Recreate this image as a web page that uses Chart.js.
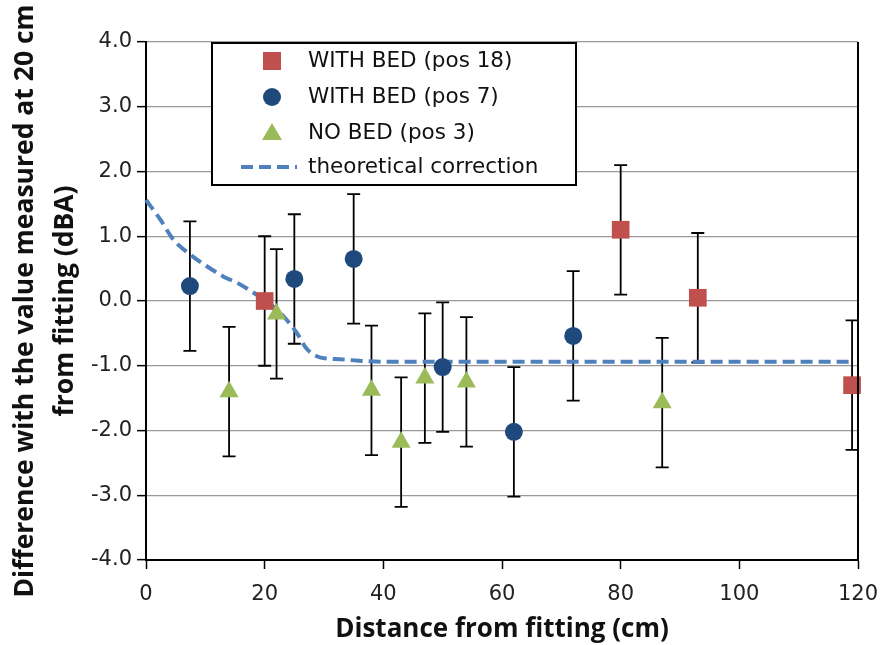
<!DOCTYPE html>
<html>
<head>
<meta charset="utf-8">
<script src="https://cdn.jsdelivr.net/npm/chart.js@4/dist/chart.umd.min.js"></script>
<style>
  html, body { margin: 0; padding: 0; background: #ffffff; }
  #wrap { width: 883px; height: 645px; }
</style>
</head>
<body>
<div id="wrap"><canvas id="c" width="883" height="645"></canvas></div>
<script>
// ---- data ----
const bed18X = [20, 80, 93, 119];
const bed18Y = [0.0, 1.1, 0.05, -1.3];
const bed18Err = [1.0, 1.0, 1.0, 1.0];

const bed7X = [7.4, 25, 35, 50, 62, 72];
const bed7Y = [0.23, 0.34, 0.65, -1.02, -2.02, -0.54];
const bed7Err = [1.0, 1.0, 1.0, 1.0, 1.0, 1.0];

const noBedX = [14, 22, 38, 43, 47, 54, 87];
const noBedY = [-1.4, -0.2, -1.38, -2.18, -1.19, -1.25, -1.57];
const noBedErr = [1.0, 1.0, 1.0, 1.0, 1.0, 1.0, 1.0];

const theoX = [0, 2.4, 4.6, 7.4, 10.2, 13, 15.8, 18.6, 20.3, 23.1, 25.4, 27.1, 29.3, 32.7, 35.5, 40, 119];
const theoY = [1.56, 1.26, 0.95, 0.72, 0.54, 0.38, 0.26, 0.10, 0.0, -0.23, -0.49, -0.74, -0.87, -0.90, -0.92, -0.94, -0.94];

const seriesNames = ['WITH BED (pos 18)', 'WITH BED (pos 7)', 'NO BED (pos 3)', 'theoretical correction'];
const xTitle = 'Distance from fitting (cm)';
const yTitle = ['Difference with the value measured at 20 cm', 'from fitting (dBA)'];

const RED = '#C0504D', BLUE = '#1F497D', GREEN = '#9BBB59', LINE = '#4F81BD';
const TICKFONT = '"DejaVu Sans", sans-serif';
const TITLEFONT = '"Open Sans", "Noto Sans", sans-serif';

function pts(xs, ys) { return xs.map((x, i) => ({ x: x, y: ys[i] })); }

const errorBarPlugin = {
  id: 'errorBars',
  beforeDatasetsDraw(chart) {
    const ctx = chart.ctx;
    const xs = chart.scales.x, ys = chart.scales.y;
    ctx.save();
    ctx.strokeStyle = '#000';
    ctx.lineWidth = 1.8;
    chart.data.datasets.forEach(ds => {
      if (!ds.errors) return;
      ds.data.forEach((p, i) => {
        const e = ds.errors[i];
        const px = xs.getPixelForValue(p.x);
        const yt = ys.getPixelForValue(p.y + e);
        const yb = ys.getPixelForValue(p.y - e);
        ctx.beginPath();
        ctx.moveTo(px, yt); ctx.lineTo(px, yb);
        ctx.moveTo(px - 6.5, yt); ctx.lineTo(px + 6.5, yt);
        ctx.moveTo(px - 6.5, yb); ctx.lineTo(px + 6.5, yb);
        ctx.stroke();
      });
    });
    ctx.restore();
  },
  afterDatasetsDraw(chart) {
    const ctx = chart.ctx, a = chart.chartArea;
    ctx.save();
    ctx.strokeStyle = '#000';
    ctx.lineWidth = 2;
    ctx.beginPath();
    ctx.moveTo(a.right, a.top); ctx.lineTo(a.right, a.bottom);
    ctx.stroke();
    ctx.restore();
  }
};

const legendPlugin = {
  id: 'boxLegend',
  afterDraw(chart) {
    const ctx = chart.ctx;
    const L = 212, T = 43, R = 576, B = 185;
    ctx.save();
    ctx.fillStyle = '#fff';
    ctx.fillRect(L, T, R - L, B - T);
    ctx.strokeStyle = '#000';
    ctx.lineWidth = 2;
    ctx.strokeRect(L, T, R - L, B - T);
    const rows = [61, 97, 133, 167];
    const sx = 272, tx = 308;
    ctx.fillStyle = RED;
    ctx.fillRect(sx - 9, rows[0] - 9, 18, 18);
    ctx.fillStyle = BLUE;
    ctx.beginPath(); ctx.arc(sx, rows[1], 9, 0, Math.PI * 2); ctx.fill();
    ctx.fillStyle = GREEN;
    ctx.beginPath();
    ctx.moveTo(sx, rows[2] - 10); ctx.lineTo(sx + 10, rows[2] + 7); ctx.lineTo(sx - 10, rows[2] + 7);
    ctx.closePath(); ctx.fill();
    ctx.strokeStyle = LINE; ctx.lineWidth = 4; ctx.setLineDash([12, 6]);
    ctx.beginPath(); ctx.moveTo(241, rows[3]); ctx.lineTo(297, rows[3]); ctx.stroke();
    ctx.setLineDash([]);
    ctx.fillStyle = '#111';
    ctx.font = '21.5px ' + TICKFONT;
    ctx.textBaseline = 'middle';
    ctx.textAlign = 'left';
    seriesNames.forEach((n, i) => ctx.fillText(n, tx, rows[i]));
    ctx.restore();
  }
};

new Chart(document.getElementById('c'), {
  type: 'scatter',
  data: {
    datasets: [
      {
        label: seriesNames[3], data: pts(theoX, theoY), showLine: true,
        borderColor: LINE, borderWidth: 4, borderDash: [12, 6], pointRadius: 0,
        cubicInterpolationMode: 'monotone', order: 4, clip: false
      },
      {
        label: seriesNames[0], data: pts(bed18X, bed18Y), errors: bed18Err,
        pointStyle: 'rect', pointRadius: 12.5, backgroundColor: RED, borderColor: RED,
        borderWidth: 0, order: 1, clip: false
      },
      {
        label: seriesNames[1], data: pts(bed7X, bed7Y), errors: bed7Err,
        pointStyle: 'circle', pointRadius: 9, backgroundColor: BLUE, borderColor: BLUE,
        borderWidth: 0, order: 2, clip: false
      },
      {
        label: seriesNames[2], data: pts(noBedX, noBedY), errors: noBedErr,
        pointStyle: 'triangle', pointRadius: 11, backgroundColor: GREEN, borderColor: GREEN,
        borderWidth: 0, order: 3, clip: false
      }
    ]
  },
  options: {
    responsive: false,
    animation: false,
    layout: { padding: { top: 42, right: 25, left: 0, bottom: 0 } },
    plugins: { legend: { display: false }, tooltip: { enabled: false } },
    scales: {
      x: {
        type: 'linear', min: 0, max: 120,
        afterFit(s) { s.height = 85; s.paddingRight = 20; s.paddingLeft = 0; },
        ticks: { stepSize: 20, color: '#222', padding: 13, font: { family: TICKFONT, size: 21 }, maxRotation: 0 },
        grid: { drawOnChartArea: false, drawTicks: true, tickLength: 9, tickColor: '#000', tickWidth: 1.5 },
        border: { display: true, color: '#000', width: 2 },
        title: { display: true, text: xTitle, color: '#111', padding: { top: 0, bottom: 0 },
                 font: { family: TITLEFONT, size: 26, weight: 'bold', lineHeight: 1.2 } }
      },
      y: {
        type: 'linear', min: -4, max: 4,
        afterFit(s) { s.width = 146; s.paddingTop = 0; s.paddingBottom = 0; },
        ticks: { stepSize: 1, color: '#222', padding: 5, font: { family: TICKFONT, size: 21 },
                 callback: v => Number(v).toFixed(1) },
        grid: { color: '#999', lineWidth: 1.3, drawTicks: true, tickLength: 9, tickColor: '#000', tickWidth: 1.5 },
        border: { display: true, color: '#000', width: 2 },
        title: { display: true, text: yTitle, color: '#111', padding: { top: 6, bottom: 0 },
                 font: { family: TITLEFONT, size: 26.5, weight: 'bold', lineHeight: 1.5 } }
      }
    }
  },
  plugins: [errorBarPlugin, legendPlugin]
});
</script>
</body>
</html>
